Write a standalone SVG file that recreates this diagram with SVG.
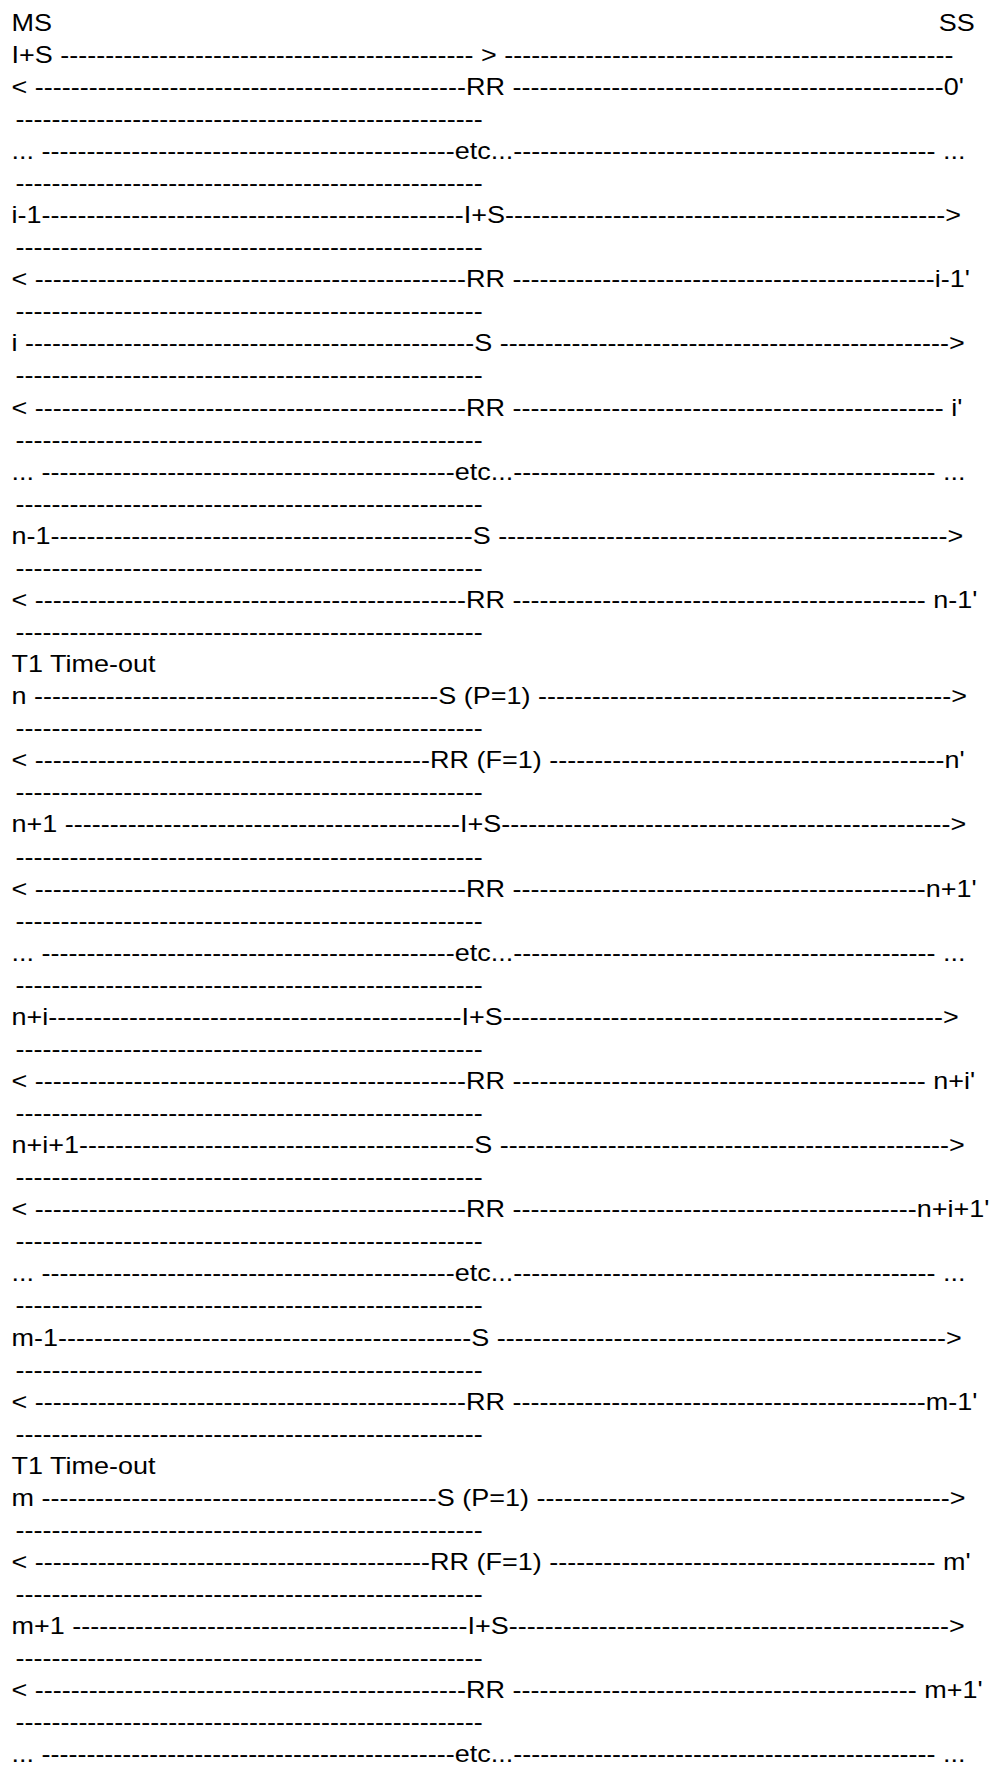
<svg xmlns="http://www.w3.org/2000/svg" width="996" height="1783" viewBox="0 0 996 1783">
<style>
text { font-family: "Liberation Sans", Arial, Helvetica, sans-serif; font-size: 23px; fill: #000; }
</style>
<rect width="996" height="1783" fill="#fff"/>
<g id="sequence" transform="scale(1.1739 1)">
<text id="l01" x="9.8" y="30.7">MS</text>
<text id="l01b" x="799.6" y="30.7">SS</text>
<text id="l02" x="9.8" y="62.77">I+S ---------------------------------------------- &gt; --------------------------------------------------</text>
<text id="l03" x="9.8" y="94.84">&lt; ------------------------------------------------RR ------------------------------------------------0'</text>
<text class="sep" x="13.2" y="126.91">----------------------------------------------------</text>
<text id="l05" x="9.8" y="158.98">... ----------------------------------------------etc...----------------------------------------------- ...</text>
<text class="sep" x="13.2" y="191.05">----------------------------------------------------</text>
<text id="l07" x="9.8" y="223.12">i-1-----------------------------------------------I+S-------------------------------------------------&gt;</text>
<text class="sep" x="13.2" y="255.19">----------------------------------------------------</text>
<text id="l09" x="9.8" y="287.26">&lt; ------------------------------------------------RR -----------------------------------------------i-1'</text>
<text class="sep" x="13.2" y="319.33">----------------------------------------------------</text>
<text id="l11" x="9.8" y="351.4">i --------------------------------------------------S --------------------------------------------------&gt;</text>
<text class="sep" x="13.2" y="383.47">----------------------------------------------------</text>
<text id="l13" x="9.8" y="415.54">&lt; ------------------------------------------------RR ------------------------------------------------ i'</text>
<text class="sep" x="13.2" y="447.61">----------------------------------------------------</text>
<text id="l15" x="9.8" y="479.68">... ----------------------------------------------etc...----------------------------------------------- ...</text>
<text class="sep" x="13.2" y="511.75">----------------------------------------------------</text>
<text id="l17" x="9.8" y="543.82">n-1-----------------------------------------------S --------------------------------------------------&gt;</text>
<text class="sep" x="13.2" y="575.89">----------------------------------------------------</text>
<text id="l19" x="9.8" y="607.96">&lt; ------------------------------------------------RR ---------------------------------------------- n-1'</text>
<text class="sep" x="13.2" y="640.03">----------------------------------------------------</text>
<text id="l21" x="9.8" y="672.1">T1 Time-out</text>
<text id="l22" x="9.8" y="704.17">n ---------------------------------------------S (P=1) ----------------------------------------------&gt;</text>
<text class="sep" x="13.2" y="736.24">----------------------------------------------------</text>
<text id="l24" x="9.8" y="768.31">&lt; --------------------------------------------RR (F=1) --------------------------------------------n'</text>
<text class="sep" x="13.2" y="800.38">----------------------------------------------------</text>
<text id="l26" x="9.8" y="832.45">n+1 --------------------------------------------I+S--------------------------------------------------&gt;</text>
<text class="sep" x="13.2" y="864.52">----------------------------------------------------</text>
<text id="l28" x="9.8" y="896.59">&lt; ------------------------------------------------RR ----------------------------------------------n+1'</text>
<text class="sep" x="13.2" y="928.66">----------------------------------------------------</text>
<text id="l30" x="9.8" y="960.73">... ----------------------------------------------etc...----------------------------------------------- ...</text>
<text class="sep" x="13.2" y="992.8">----------------------------------------------------</text>
<text id="l32" x="9.8" y="1024.87">n+i----------------------------------------------I+S-------------------------------------------------&gt;</text>
<text class="sep" x="13.2" y="1056.94">----------------------------------------------------</text>
<text id="l34" x="9.8" y="1089.01">&lt; ------------------------------------------------RR ---------------------------------------------- n+i'</text>
<text class="sep" x="13.2" y="1121.08">----------------------------------------------------</text>
<text id="l36" x="9.8" y="1153.15">n+i+1--------------------------------------------S --------------------------------------------------&gt;</text>
<text class="sep" x="13.2" y="1185.22">----------------------------------------------------</text>
<text id="l38" x="9.8" y="1217.29">&lt; ------------------------------------------------RR ---------------------------------------------n+i+1'</text>
<text class="sep" x="13.2" y="1249.36">----------------------------------------------------</text>
<text id="l40" x="9.8" y="1281.43">... ----------------------------------------------etc...----------------------------------------------- ...</text>
<text class="sep" x="13.2" y="1313.5">----------------------------------------------------</text>
<text id="l42" x="9.8" y="1345.57">m-1----------------------------------------------S --------------------------------------------------&gt;</text>
<text class="sep" x="13.2" y="1377.64">----------------------------------------------------</text>
<text id="l44" x="9.8" y="1409.71">&lt; ------------------------------------------------RR ----------------------------------------------m-1'</text>
<text class="sep" x="13.2" y="1441.78">----------------------------------------------------</text>
<text id="l46" x="9.8" y="1473.85">T1 Time-out</text>
<text id="l47" x="9.8" y="1505.92">m --------------------------------------------S (P=1) ----------------------------------------------&gt;</text>
<text class="sep" x="13.2" y="1537.99">----------------------------------------------------</text>
<text id="l49" x="9.8" y="1570.06">&lt; --------------------------------------------RR (F=1) ------------------------------------------- m'</text>
<text class="sep" x="13.2" y="1602.13">----------------------------------------------------</text>
<text id="l51" x="9.8" y="1634.2">m+1 --------------------------------------------I+S-------------------------------------------------&gt;</text>
<text class="sep" x="13.2" y="1666.27">----------------------------------------------------</text>
<text id="l53" x="9.8" y="1698.34">&lt; ------------------------------------------------RR --------------------------------------------- m+1'</text>
<text class="sep" x="13.2" y="1730.41">----------------------------------------------------</text>
<text id="l55" x="9.8" y="1762.48">... ----------------------------------------------etc...----------------------------------------------- ...</text>
</g>
</svg>
